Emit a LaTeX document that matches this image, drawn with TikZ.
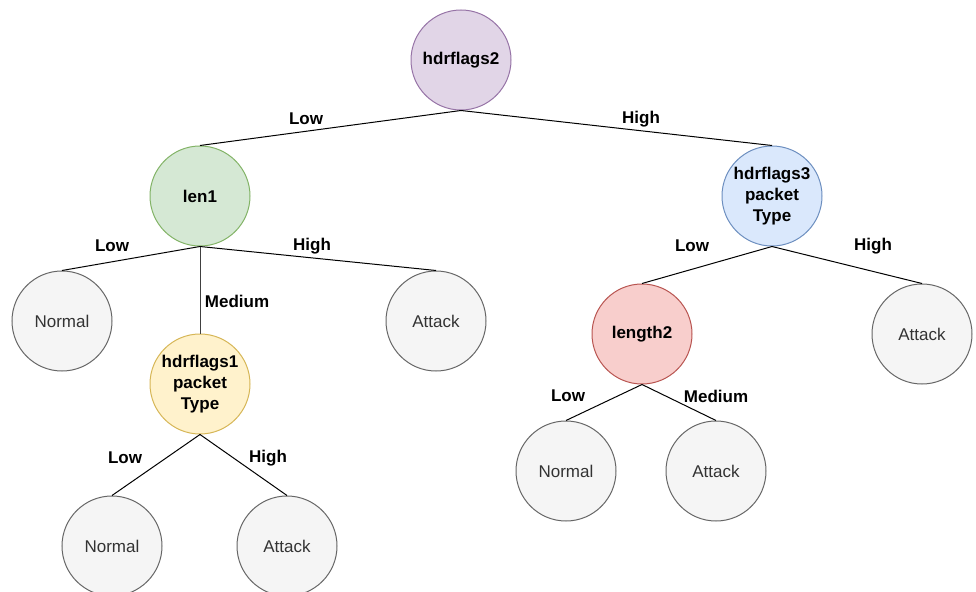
\documentclass[tikz,border=0pt]{standalone}
\usepackage{fontspec}
\setmainfont{Liberation Sans}

\definecolor{rootfill}{HTML}{E1D5E7}
\definecolor{rootdraw}{HTML}{9673A6}
\definecolor{greenfill}{HTML}{D5E8D4}
\definecolor{greendraw}{HTML}{82B366}
\definecolor{bluefill}{HTML}{DAE8FC}
\definecolor{bluedraw}{HTML}{6C8EBF}
\definecolor{yellowfill}{HTML}{FFF2CC}
\definecolor{yellowdraw}{HTML}{D6B656}
\definecolor{redfill}{HTML}{F8CECC}
\definecolor{reddraw}{HTML}{B85450}
\definecolor{leaffill}{HTML}{F5F5F5}
\definecolor{leafdraw}{HTML}{666666}
\definecolor{leaftext}{HTML}{333333}

\newcommand\dtsize{75pt}
\newcommand\dttextstyle{\fontsize{12.75}{15.5}\selectfont}

\tikzset{
  dtnode/.style={circle, draw, line width=0.75pt, minimum size=\dtsize,
    inner sep=0pt, align=center, font=\dttextstyle\bfseries},
  dtleaf/.style={dtnode, fill=leaffill, draw=leafdraw, text=leaftext,
    font=\dttextstyle},
  dtlabel/.style={font=\dttextstyle\bfseries},
  dtedge/.style={line width=0.75pt}
}

\begin{document}
\begin{tikzpicture}[x=0.75pt, y=-0.75pt]
    \useasboundingbox (0, 0) rectangle (976, 592) ;
    % inner nodes
    \node (hdr2) at (461, 60) [dtnode, fill=rootfill, draw=rootdraw] {hdrflags2} ;
    \node (len1) at (200, 196) [dtnode, fill=greenfill, draw=greendraw] {len1} ;
    \node (hdr3) at (772, 196) [dtnode, fill=bluefill, draw=bluedraw] {hdrflags3\\packet\\Type} ;
    \node (hdr1) at (200, 384) [dtnode, fill=yellowfill, draw=yellowdraw] {hdrflags1\\packet\\Type} ;
    \node (len2) at (642, 334) [dtnode, fill=redfill, draw=reddraw] {length2} ;
    % leaves
    \node (normA) at (62, 321) [dtleaf] {Normal} ;
    \node (attA) at (436, 321) [dtleaf] {Attack} ;
    \node (attB) at (922, 334) [dtleaf] {Attack} ;
    \node (normB) at (566, 471) [dtleaf] {Normal} ;
    \node (attC) at (716, 471) [dtleaf] {Attack} ;
    \node (normC) at (112, 546) [dtleaf] {Normal} ;
    \node (attD) at (287, 546) [dtleaf] {Attack} ;
    % edges
    \draw[dtedge] (hdr2.south) -- (len1.north) ;
    \draw[dtedge] (hdr2.south) -- (hdr3.north) ;
    \draw[dtedge] (len1.south) -- (normA.north) ;
    \draw[dtedge] (len1.south) -- (attA.north) ;
    \draw[dtedge, black!75] (len1.south) -- (hdr1.north) ;
    \draw[dtedge] (hdr3.south) -- (len2.north) ;
    \draw[dtedge] (hdr3.south) -- (attB.north) ;
    \draw[dtedge] (len2.south) -- (normB.north) ;
    \draw[dtedge] (len2.south) -- (attC.north) ;
    \draw[dtedge] (hdr1.south) -- (normC.north) ;
    \draw[dtedge] (hdr1.south) -- (attD.north) ;
    % branch labels
    \node (l1) at (306, 119) [dtlabel] {Low} ;
    \node (l2) at (641, 119) [dtlabel] {High} ;
    \node (l3) at (112, 246) [dtlabel] {Low} ;
    \node (l4) at (312, 246) [dtlabel] {High} ;
    \node (l5) at (237, 301) [dtlabel] {Medium} ;
    \node (l6) at (692, 246) [dtlabel] {Low} ;
    \node (l7) at (873, 246) [dtlabel] {High} ;
    \node (l8) at (568, 396) [dtlabel] {Low} ;
    \node (l9) at (716, 396) [dtlabel] {Medium} ;
    \node (l10) at (125, 458) [dtlabel] {Low} ;
    \node (l11) at (268, 458) [dtlabel] {High} ;
\end{tikzpicture}
\end{document}
